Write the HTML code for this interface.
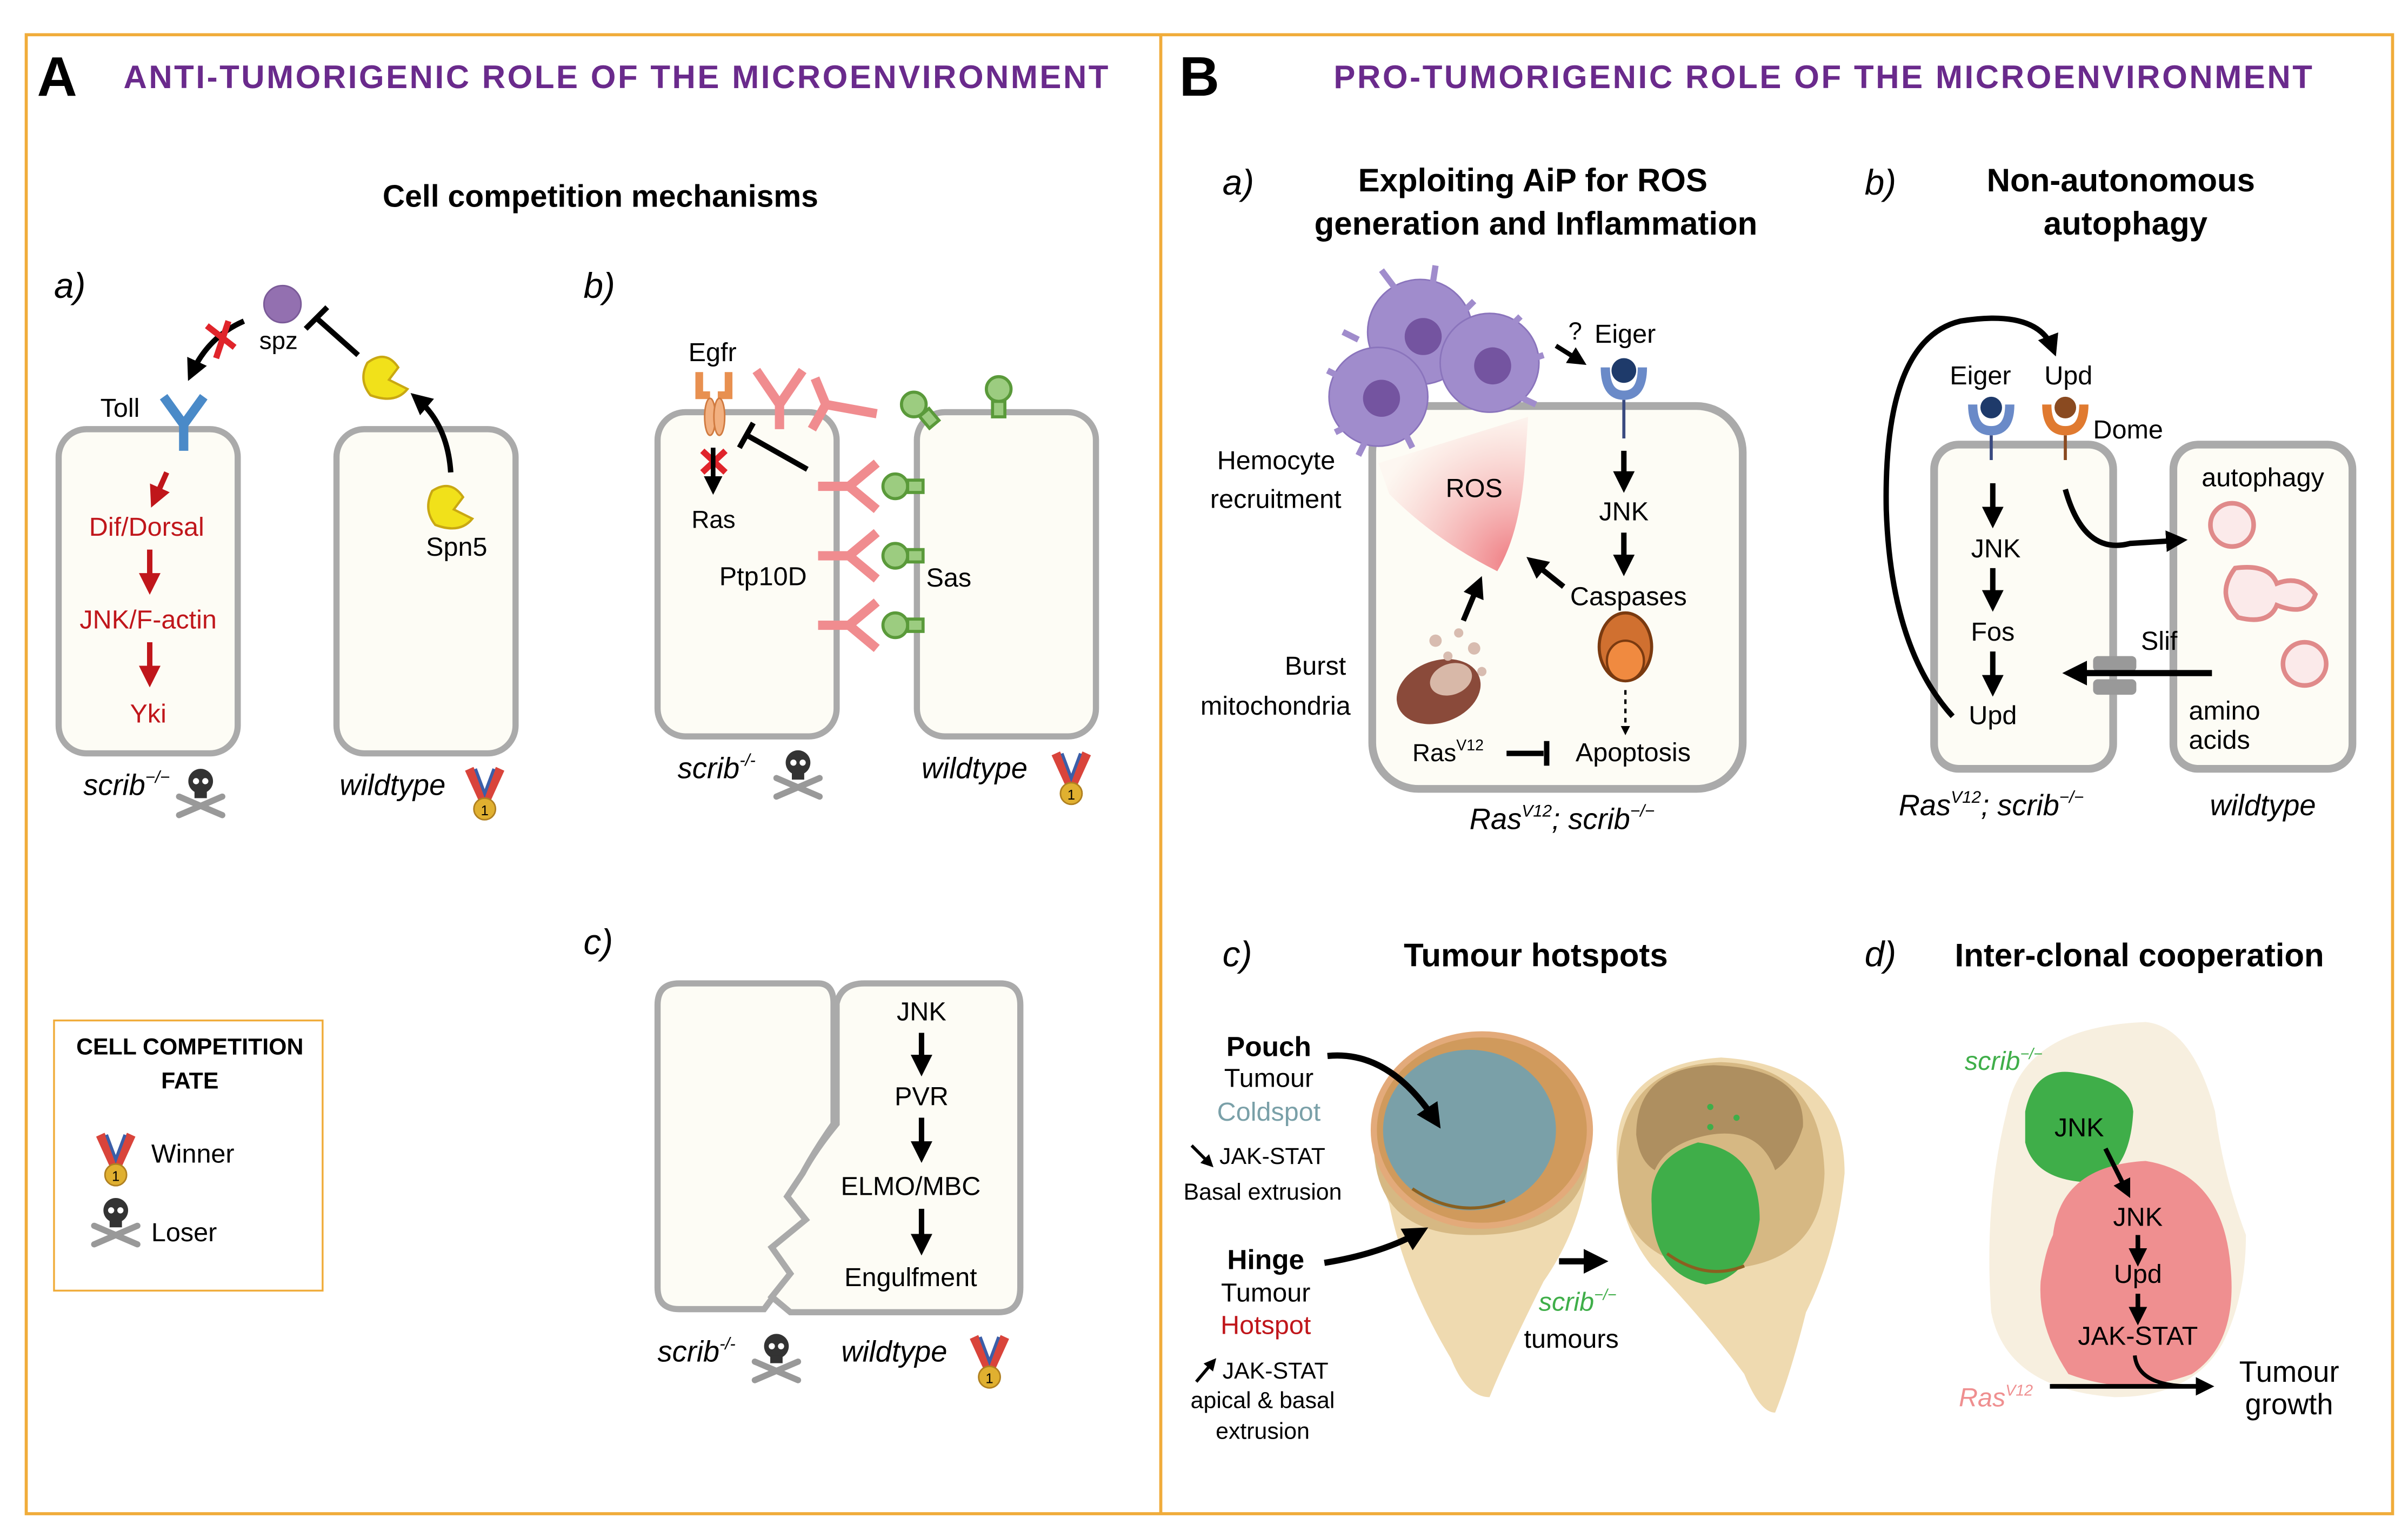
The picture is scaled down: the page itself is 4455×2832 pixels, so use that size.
<!DOCTYPE html>
<html><head><meta charset="utf-8"><style>
html,body{margin:0;padding:0;background:#fff}
svg{display:block}
text{font-family:"Liberation Sans",sans-serif}
.b{font-weight:bold}
.i{font-style:italic}
</style></head><body>
<svg width="4455" height="2832" viewBox="0 0 1560 991.7" preserveAspectRatio="none" xmlns="http://www.w3.org/2000/svg">
<defs>
<marker id="ah" markerWidth="4" markerHeight="4" refX="2.5" refY="2" orient="auto" markerUnits="strokeWidth"><path d="M0,0 L4,2 L0,4 z" fill="#000"/></marker>
<marker id="ahr" markerWidth="4" markerHeight="4" refX="2.5" refY="2" orient="auto" markerUnits="strokeWidth"><path d="M0,0 L4,2 L0,4 z" fill="#c0161b"/></marker>
<radialGradient id="ros" cx="0.9" cy="0.95" r="1"><stop offset="0" stop-color="#ef7c82"/><stop offset="1" stop-color="#fdf4ee" stop-opacity="0.6"/></radialGradient>
<g id="skull"><circle cx="0" cy="-6" r="8" fill="#333"/><rect x="-4" y="0" width="8" height="5" fill="#333"/><circle cx="-3" cy="-6" r="2" fill="#fff"/><circle cx="3" cy="-6" r="2" fill="#fff"/><path d="M-14,4 L14,16 M14,4 L-14,16" stroke="#999" stroke-width="4" stroke-linecap="round"/></g>
<g id="medal"><path d="M-10,-20 L0,2 L10,-20" fill="none" stroke="#d9443b" stroke-width="6"/><path d="M-6,-20 L0,-4 L6,-20" fill="none" stroke="#3b5ea8" stroke-width="2"/><circle cx="0" cy="6" r="7" fill="#e0b030" stroke="#b08020"/><text x="0" y="10" font-size="9" text-anchor="middle">1</text></g>
</defs>
<rect x="0" y="0" width="1560" height="991.7" fill="#fff"/>
<rect x="17" y="22.5" width="1533" height="958" fill="none" stroke="#f0ac3a" stroke-width="2"/>
<line x1="752" y1="22.5" x2="752" y2="980.5" stroke="#f0ac3a" stroke-width="2"/>

<!-- Panel A -->
<text x="24" y="62" class="b" font-size="36">A</text>
<text x="80" y="57" class="b" font-size="21" fill="#6a2a8c" textLength="638">ANTI-TUMORIGENIC ROLE OF THE MICROENVIRONMENT</text>
<text x="389" y="134" class="b" font-size="20" text-anchor="middle">Cell competition mechanisms</text>
<text x="35" y="193" class="i" font-size="23">a)</text>
<rect x="38" y="278" width="116" height="210" rx="18" fill="#fdfcf5" stroke="#aaa" stroke-width="4"/>
<rect x="218" y="278" width="116" height="210" rx="18" fill="#fdfcf5" stroke="#aaa" stroke-width="4"/>
<text x="65" y="270" font-size="17">Toll</text>
<path d="M106,257 L119,275 L132,257 M119,275 L119,292" stroke="#4a8ac8" stroke-width="6" fill="none"/>
<circle cx="183" cy="197" r="12" fill="#9370b0" stroke="#7a5a98"/>
<text x="168" y="226" font-size="16">spz</text>
<path d="M158,208 Q135,218 124,242" stroke="#000" stroke-width="3.5" fill="none" marker-end="url(#ah)"/>
<path d="M134,211 L152,225 M148,208 L140,232" stroke="#e0242b" stroke-width="4"/>
<path d="M232,230 L205,206 M198,213 L212,199" stroke="#000" stroke-width="3.5"/>
<path d="M238,235 Q250,226 258,238 L252,246 L264,252 Q256,262 240,256 Q232,246 238,235z" fill="#f1e11a" stroke="#c9a812" stroke-width="1.5"/>
<path d="M280,318 Q292,310 300,322 L294,330 L306,336 Q298,346 282,340 Q274,330 280,318z" fill="#f1e11a" stroke="#c9a812" stroke-width="1.5"/>
<path d="M292,306 Q290,275 270,258" stroke="#000" stroke-width="3.5" fill="none" marker-end="url(#ah)"/>
<text x="276" y="360" font-size="17">Spn5</text>
<line x1="108" y1="306" x2="100" y2="324" stroke="#c0161b" stroke-width="3.5" marker-end="url(#ahr)"/>
<text x="95" y="347" font-size="17" fill="#c0161b" text-anchor="middle">Dif/Dorsal</text>
<line x1="97" y1="356" x2="97" y2="380" stroke="#c0161b" stroke-width="3.5" marker-end="url(#ahr)"/>
<text x="96" y="407" font-size="17" fill="#c0161b" text-anchor="middle">JNK/F-actin</text>
<line x1="97" y1="416" x2="97" y2="440" stroke="#c0161b" stroke-width="3.5" marker-end="url(#ahr)"/>
<text x="96" y="468" font-size="17" fill="#c0161b" text-anchor="middle">Yki</text>
<text x="54" y="515" class="i" font-size="19">scrib<tspan font-size="11" dy="-8">−/−</tspan></text>
<use href="#skull" x="130" y="512"/>
<text x="220" y="515" class="i" font-size="19">wildtype</text>
<use href="#medal" x="314" y="518"/>

<text x="378" y="193" class="i" font-size="23">b)</text>
<rect x="426" y="267" width="116" height="210" rx="18" fill="#fdfcf5" stroke="#aaa" stroke-width="4"/>
<rect x="594" y="267" width="116" height="210" rx="18" fill="#fdfcf5" stroke="#aaa" stroke-width="4"/>
<text x="446" y="234" font-size="17">Egfr</text>
<path d="M453,241 L453,256 L460,256 M472,241 L472,256 L465,256" stroke="#e89050" stroke-width="5" fill="none"/>
<ellipse cx="460" cy="270" rx="3.5" ry="12" fill="#f2b080" stroke="#d07a40"/><ellipse cx="466" cy="270" rx="3.5" ry="12" fill="#f2b080" stroke="#d07a40"/>
<path d="M490,240 L505,262 L520,240 M505,262 L505,278" stroke="#f08c8f" stroke-width="6" fill="none"/>
<path d="M528,245 L535,262 L568,268 M535,262 L526,278" stroke="#f08c8f" stroke-width="6" fill="none"/>
<path d="M455,292 L470,306 M470,292 L455,306" stroke="#e0242b" stroke-width="4"/>
<line x1="462" y1="290" x2="462" y2="316" stroke="#000" stroke-width="3" marker-end="url(#ah)"/>
<text x="448" y="342" font-size="16">Ras</text>
<path d="M523,304 L484,282 M479,290 L488,274" stroke="#000" stroke-width="3.5"/>
<g stroke="#f08c8f" stroke-width="6" fill="none">
<path d="M530,315 L550,315 L568,300 M550,315 L568,330"/>
<path d="M530,360 L550,360 L568,345 M550,360 L568,375"/>
<path d="M530,405 L550,405 L568,390 M550,405 L568,420"/>
</g>
<g fill="#9ccc80" stroke="#5a9a3a" stroke-width="2">
<circle cx="580" cy="315" r="8"/><rect x="588" y="311" width="10" height="8"/>
<circle cx="580" cy="360" r="8"/><rect x="588" y="356" width="10" height="8"/>
<circle cx="580" cy="405" r="8"/><rect x="588" y="401" width="10" height="8"/>
<circle cx="592" cy="262" r="8"/><rect x="598" y="266" width="8" height="10" transform="rotate(-40 602 271)"/>
<circle cx="647" cy="252" r="8"/><rect x="643" y="260" width="8" height="10"/>
</g>
<text x="466" y="379" font-size="17">Ptp10D</text>
<text x="600" y="380" font-size="17">Sas</text>
<text x="439" y="504" class="i" font-size="19">scrib<tspan font-size="11" dy="-8">-/-</tspan></text>
<use href="#skull" x="517" y="500"/>
<text x="597" y="504" class="i" font-size="19">wildtype</text>
<use href="#medal" x="694" y="508"/>

<text x="378" y="618" class="i" font-size="23">c)</text>
<path d="M440,637 L530,637 Q540,637 540,650 L540,728 Q528,745 520,760 L510,775 L522,790 L500,808 L512,825 L495,848 L440,848 Q426,848 426,834 L426,651 Q426,637 440,637z" fill="#fdfcf5" stroke="#aaa" stroke-width="4"/>
<path d="M560,637 L648,637 Q661,637 661,651 L661,834 Q661,850 647,850 L512,850 L500,840 L512,825 L500,808 L522,790 L510,775 L520,760 Q528,745 542,728 L542,650 Q545,637 560,637z" fill="#fdfcf5" stroke="#aaa" stroke-width="4"/>
<text x="597" y="661" font-size="17" text-anchor="middle">JNK</text>
<line x1="597" y1="669" x2="597" y2="692" stroke="#000" stroke-width="3.5" marker-end="url(#ah)"/>
<text x="597" y="716" font-size="17" text-anchor="middle">PVR</text>
<line x1="597" y1="724" x2="597" y2="748" stroke="#000" stroke-width="3.5" marker-end="url(#ah)"/>
<text x="590" y="774" font-size="17" text-anchor="middle">ELMO/MBC</text>
<line x1="597" y1="783" x2="597" y2="808" stroke="#000" stroke-width="3.5" marker-end="url(#ah)"/>
<text x="590" y="833" font-size="17" text-anchor="middle">Engulfment</text>
<text x="426" y="882" class="i" font-size="19">scrib<tspan font-size="11" dy="-8">-/-</tspan></text>
<use href="#skull" x="503" y="878"/>
<text x="545" y="882" class="i" font-size="19">wildtype</text>
<use href="#medal" x="641" y="886"/>

<rect x="35" y="661" width="174" height="175" fill="none" stroke="#f0ac3a" stroke-width="1.2"/>
<text x="123" y="683" class="b" font-size="15" text-anchor="middle">CELL COMPETITION</text>
<text x="123" y="705" class="b" font-size="15" text-anchor="middle">FATE</text>
<use href="#medal" x="75" y="755"/>
<text x="98" y="753" font-size="17">Winner</text>
<use href="#skull" x="75" y="790"/>
<text x="98" y="804" font-size="17">Loser</text>

<!-- Panel B -->
<text x="764" y="62" class="b" font-size="36">B</text>
<text x="1181" y="57" class="b" font-size="21" fill="#6a2a8c" text-anchor="middle" textLength="634">PRO-TUMORIGENIC ROLE OF THE MICROENVIRONMENT</text>
<text x="792" y="126" class="i" font-size="23">a)</text>
<text x="993" y="124" class="b" font-size="21" text-anchor="middle">Exploiting AiP for  ROS</text>
<text x="995" y="152" class="b" font-size="21" text-anchor="middle">generation and Inflammation</text>
<rect x="889" y="263" width="240" height="248" rx="30" fill="#fdfcf5" stroke="#aaa" stroke-width="5"/>
<path d="M893,300 L990,270 L988,300 Q985,345 970,370 Q930,350 900,320z" fill="url(#ros)"/>
<text x="955" y="322" font-size="17" text-anchor="middle">ROS</text>
<g fill="#a08ccc" stroke="#8a74bc" stroke-width="1">
<circle cx="920" cy="215" r="34"/><circle cx="965" cy="235" r="32"/><circle cx="893" cy="257" r="32"/>
<path d="M895,175 L910,195 M930,172 L928,185 M955,195 L945,205 M985,205 L975,215 M1000,230 L985,235 M995,262 L980,255 M860,240 L870,245 M865,280 L875,275 M880,295 L885,285 M915,290 L910,280 M870,215 L880,220" stroke="#a08ccc" stroke-width="4"/>
</g>
<g fill="#7454a0"><circle cx="922" cy="218" r="12"/><circle cx="967" cy="237" r="12"/><circle cx="895" cy="258" r="12"/></g>
<text x="1016" y="220" font-size="16">?</text>
<text x="1033" y="222" font-size="17">Eiger</text>
<line x1="1008" y1="224" x2="1024" y2="234" stroke="#000" stroke-width="3" marker-end="url(#ah)"/>
<path d="M1040,238 Q1040,256 1052,256 Q1064,256 1064,238" fill="none" stroke="#6a8ac8" stroke-width="6"/>
<circle cx="1052" cy="240" r="8" fill="#1e3a6a"/>
<line x1="1052" y1="259" x2="1052" y2="284" stroke="#3a4a80" stroke-width="2"/>
<line x1="1052" y1="292" x2="1052" y2="314" stroke="#000" stroke-width="3.5" marker-end="url(#ah)"/>
<text x="1052" y="337" font-size="17" text-anchor="middle">JNK</text>
<line x1="1052" y1="345" x2="1052" y2="368" stroke="#000" stroke-width="3.5" marker-end="url(#ah)"/>
<text x="1055" y="392" font-size="17" text-anchor="middle">Caspases</text>
<line x1="1013" y1="380" x2="993" y2="364" stroke="#000" stroke-width="3.5" marker-end="url(#ah)"/>
<ellipse cx="1053" cy="419" rx="17" ry="22" fill="#d07030" stroke="#7a3a10" stroke-width="2"/>
<ellipse cx="1053" cy="428" rx="12" ry="13" fill="#f08a40" stroke="#7a3a10" stroke-width="1.5"/>
<line x1="1053" y1="447" x2="1053" y2="474" stroke="#000" stroke-width="1.5" stroke-dasharray="3,3" marker-end="url(#ah)"/>
<text x="1058" y="493" font-size="17" text-anchor="middle">Apoptosis</text>
<text x="915" y="493" font-size="16">Ras<tspan font-size="10" dy="-7">V12</tspan></text>
<path d="M976,488 L1000,488 M1002,480 L1002,496" stroke="#000" stroke-width="3.5"/>
<ellipse cx="932" cy="448" rx="28" ry="20" fill="#8a4a3a" transform="rotate(-20 932 448)"/>
<ellipse cx="940" cy="440" rx="14" ry="10" fill="#d8b8a8" transform="rotate(-20 940 440)"/>
<g fill="#d8bcb0"><circle cx="930" cy="415" r="4"/><circle cx="945" cy="410" r="3"/><circle cx="955" cy="420" r="4"/><circle cx="938" cy="425" r="3"/><circle cx="960" cy="435" r="3"/></g>
<line x1="948" y1="402" x2="958" y2="378" stroke="#000" stroke-width="3.5" marker-end="url(#ah)"/>
<text x="865" y="304" font-size="17" text-anchor="end">Hemocyte</text>
<text x="869" y="329" font-size="17" text-anchor="end">recruitment</text>
<text x="872" y="437" font-size="17" text-anchor="end">Burst</text>
<text x="875" y="463" font-size="17" text-anchor="end">mitochondria</text>
<text x="1012" y="537" class="i" font-size="19" text-anchor="middle">Ras<tspan font-size="11" dy="-8">V12</tspan><tspan dy="8">; scrib</tspan><tspan font-size="11" dy="-8">−/−</tspan></text>

<text x="1208" y="126" class="i" font-size="23">b)</text>
<text x="1374" y="124" class="b" font-size="21" text-anchor="middle">Non-autonomous</text>
<text x="1377" y="152" class="b" font-size="21" text-anchor="middle">autophagy</text>
<rect x="1253" y="288" width="116" height="210" rx="16" fill="#fdfcf5" stroke="#aaa" stroke-width="5"/>
<rect x="1408" y="288" width="116" height="210" rx="16" fill="#fdfcf5" stroke="#aaa" stroke-width="5"/>
<text x="1283" y="249" font-size="17" text-anchor="middle">Eiger</text>
<text x="1340" y="249" font-size="17" text-anchor="middle">Upd</text>
<text x="1356" y="284" font-size="17">Dome</text>
<path d="M1278,262 Q1278,279 1290,279 Q1302,279 1302,262" fill="none" stroke="#6a8ac8" stroke-width="6"/>
<circle cx="1290" cy="264" r="7" fill="#1e3a6a"/>
<line x1="1290" y1="282" x2="1290" y2="298" stroke="#3a4a80" stroke-width="2"/>
<path d="M1326,262 Q1326,279 1338,279 Q1350,279 1350,262" fill="none" stroke="#e07a30" stroke-width="6"/>
<circle cx="1338" cy="264" r="7" fill="#8a4a20"/>
<line x1="1338" y1="282" x2="1338" y2="298" stroke="#8a4a20" stroke-width="2"/>
<line x1="1291" y1="313" x2="1291" y2="337" stroke="#000" stroke-width="3.5" marker-end="url(#ah)"/>
<text x="1293" y="361" font-size="17" text-anchor="middle">JNK</text>
<line x1="1291" y1="368" x2="1291" y2="391" stroke="#000" stroke-width="3.5" marker-end="url(#ah)"/>
<text x="1291" y="415" font-size="17" text-anchor="middle">Fos</text>
<line x1="1291" y1="422" x2="1291" y2="446" stroke="#000" stroke-width="3.5" marker-end="url(#ah)"/>
<text x="1291" y="469" font-size="17" text-anchor="middle">Upd</text>
<path d="M1265,464 Q1225,420 1222,330 Q1220,220 1270,208 Q1320,200 1330,226" stroke="#000" stroke-width="3.5" fill="none" marker-end="url(#ah)"/>
<path d="M1338,317 Q1350,360 1380,352 L1412,350" stroke="#000" stroke-width="3.5" fill="none" marker-end="url(#ah)"/>
<text x="1466" y="315" font-size="17" text-anchor="middle">autophagy</text>
<circle cx="1446" cy="340" r="14" fill="#fbeaea" stroke="#e08a8a" stroke-width="3"/>
<path d="M1448,368 Q1470,365 1475,378 Q1490,372 1500,385 Q1495,400 1475,392 Q1470,405 1450,400 Q1435,385 1448,368z" fill="#fbeaea" stroke="#e08a8a" stroke-width="3"/>
<circle cx="1493" cy="430" r="14" fill="#fbeaea" stroke="#e08a8a" stroke-width="3"/>
<text x="1387" y="421" font-size="17">Slif</text>
<rect x="1356" y="425" width="28" height="10" rx="3" fill="#999"/><rect x="1356" y="440" width="28" height="10" rx="3" fill="#999"/>
<line x1="1433" y1="436" x2="1342" y2="436" stroke="#000" stroke-width="4" marker-end="url(#ah)"/>
<text x="1418" y="466" font-size="17">amino</text>
<text x="1418" y="485" font-size="17">acids</text>
<text x="1290" y="528" class="i" font-size="19" text-anchor="middle">Ras<tspan font-size="11" dy="-8">V12</tspan><tspan dy="8">; scrib</tspan><tspan font-size="11" dy="-8">−/−</tspan></text>
<text x="1466" y="528" class="i" font-size="19" text-anchor="middle">wildtype</text>

<text x="792" y="626" class="i" font-size="23">c)</text>
<text x="995" y="626" class="b" font-size="21" text-anchor="middle">Tumour hotspots</text>
<path d="M890,740 Q885,680 955,678 Q1030,680 1030,740 Q1028,790 1000,830 Q975,880 965,905 Q950,905 940,880 Q910,830 900,780 Q892,760 890,740z" fill="#efdab0"/>
<path d="M890,740 Q890,800 955,800 Q1030,800 1030,740 Q1030,680 955,678 Q890,680 890,740z" fill="#d6b883"/>
<ellipse cx="960" cy="732" rx="70" ry="62" fill="#d09a5c" stroke="#e3aa7a" stroke-width="4"/>
<ellipse cx="952" cy="732" rx="56" ry="52" fill="#7aa0a8"/>
<path d="M915,770 Q945,790 975,778" stroke="#8a6020" stroke-width="2" fill="none"/>
<path d="M1048,760 Q1040,690 1115,685 Q1195,690 1195,760 Q1190,810 1170,850 Q1160,890 1150,915 Q1140,915 1130,890 Q1100,850 1070,820 Q1050,795 1048,760z" fill="#efdab0"/>
<path d="M1048,760 Q1048,690 1115,688 Q1180,690 1182,760 Q1180,820 1115,822 Q1050,820 1048,760z" fill="#d6b883"/>
<path d="M1060,735 Q1060,692 1110,690 Q1170,692 1168,730 Q1162,750 1150,758 Q1140,730 1108,735 Q1080,740 1072,758 Q1062,752 1060,735z" fill="#ae8f60"/>
<path d="M1070,780 Q1068,750 1100,740 Q1140,745 1140,790 Q1135,828 1105,832 Q1070,825 1070,780z" fill="#3fae49"/>
<g fill="#3fae49"><circle cx="1108" cy="717" r="2"/><circle cx="1125" cy="724" r="2"/><circle cx="1108" cy="730" r="2"/></g>
<path d="M1080,812 Q1105,830 1130,820" stroke="#8a6020" stroke-width="2" fill="none"/>
<text x="822" y="684" class="b" font-size="18" text-anchor="middle">Pouch</text>
<text x="822" y="704" font-size="17" text-anchor="middle">Tumour</text>
<text x="822" y="726" font-size="17" text-anchor="middle" fill="#7aa0a8">Coldspot</text>
<path d="M860,684 Q900,680 930,726" stroke="#000" stroke-width="4" fill="none" marker-end="url(#ah)"/>
<line x1="772" y1="742" x2="784" y2="754" stroke="#000" stroke-width="2" marker-end="url(#ah)"/>
<text x="790" y="754" font-size="15">JAK-STAT</text>
<text x="818" y="777" font-size="15" text-anchor="middle">Basal extrusion</text>
<text x="820" y="822" class="b" font-size="18" text-anchor="middle">Hinge</text>
<text x="820" y="843" font-size="17" text-anchor="middle">Tumour</text>
<text x="820" y="864" font-size="17" text-anchor="middle" fill="#c0161b">Hotspot</text>
<path d="M858,818 Q895,812 920,798" stroke="#000" stroke-width="4" fill="none" marker-end="url(#ah)"/>
<line x1="775" y1="895" x2="786" y2="882" stroke="#000" stroke-width="2" marker-end="url(#ah)"/>
<text x="792" y="893" font-size="15">JAK-STAT</text>
<text x="818" y="912" font-size="15" text-anchor="middle">apical &amp; basal</text>
<text x="818" y="932" font-size="15" text-anchor="middle">extrusion</text>
<line x1="1010" y1="817" x2="1036" y2="817" stroke="#000" stroke-width="4" marker-end="url(#ah)"/>
<text x="1022" y="849" class="i" font-size="17" text-anchor="middle" fill="#3fae49">scrib<tspan font-size="10" dy="-7">−/−</tspan></text>
<text x="1018" y="873" font-size="17" text-anchor="middle">tumours</text>

<text x="1208" y="626" class="i" font-size="23">d)</text>
<text x="1386" y="626" class="b" font-size="21" text-anchor="middle">Inter-clonal cooperation</text>
<path d="M1300,720 Q1310,665 1390,662 Q1420,665 1435,720 Q1440,760 1455,800 Q1455,840 1440,870 Q1420,905 1370,905 Q1300,900 1290,850 Q1285,780 1300,720z" fill="#f7efdf"/>
<path d="M1312,720 Q1318,690 1345,695 Q1380,700 1382,720 Q1380,760 1355,766 Q1318,765 1312,740z" fill="#3fae49"/>
<path d="M1330,800 Q1335,755 1390,752 Q1440,760 1445,820 Q1450,870 1420,890 Q1380,905 1340,890 Q1320,860 1322,830 Q1325,810 1330,800z" fill="#ef8f90"/>
<text x="1347" y="736" font-size="17" text-anchor="middle">JNK</text>
<line x1="1364" y1="744" x2="1378" y2="772" stroke="#000" stroke-width="3" marker-end="url(#ah)"/>
<text x="1385" y="794" font-size="17" text-anchor="middle">JNK</text>
<line x1="1385" y1="800" x2="1385" y2="816" stroke="#000" stroke-width="3" marker-end="url(#ah)"/>
<text x="1385" y="831" font-size="17" text-anchor="middle">Upd</text>
<line x1="1385" y1="838" x2="1385" y2="854" stroke="#000" stroke-width="3" marker-end="url(#ah)"/>
<text x="1385" y="871" font-size="17" text-anchor="middle">JAK-STAT</text>
<path d="M1383,878 Q1385,898 1420,898" stroke="#000" stroke-width="2.5" fill="none"/>
<line x1="1328" y1="898" x2="1430" y2="898" stroke="#000" stroke-width="3" marker-end="url(#ah)"/>
<text x="1483" y="895" font-size="19" text-anchor="middle">Tumour</text>
<text x="1483" y="916" font-size="19" text-anchor="middle">growth</text>
<text x="1298" y="693" class="i" font-size="17" text-anchor="middle" fill="#3fae49">scrib<tspan font-size="10" dy="-7">−/−</tspan></text>
<text x="1293" y="911" class="i" font-size="17" text-anchor="middle" fill="#ef8f90">Ras<tspan font-size="10" dy="-7">V12</tspan></text>
</svg>
</body></html>
